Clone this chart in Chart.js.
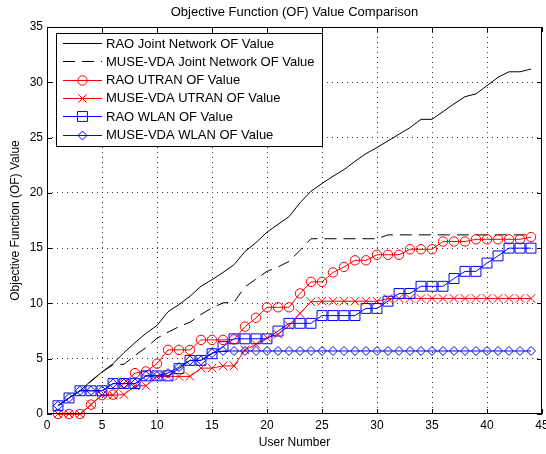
<!DOCTYPE html>
<html>
<head>
<meta charset="utf-8">
<script src="https://cdn.jsdelivr.net/npm/chart.js@4.4.1/dist/chart.umd.min.js"></script>
<style>
  html, body { margin: 0; padding: 0; background: #fff; }
  #wrap { width: 546px; height: 454px; }
</style>
</head>
<body>
<div id="wrap"><canvas id="chart" width="546" height="454"></canvas></div>
<script>
// user numbers 1..44
const users = [1,2,3,4,5,6,7,8,9,10,11,12,13,14,15,16,17,18,19,20,21,22,
  23,24,25,26,27,28,29,30,31,32,33,34,35,36,37,38,39,40,41,42,43,44];

const raoJoint = [0.75,1.45,2.1,3.0,3.8,4.55,5.55,6.45,7.3,8.0,9.25,9.9,10.65,11.55,12.15,12.8,13.5,14.7,15.5,16.45,
  17.15,17.85,19.1,20.15,20.85,21.5,22.1,22.85,23.55,24.1,24.7,25.3,25.9,26.65,26.65,27.35,28.05,28.7,28.95,29.7,
  30.45,30.95,30.95,31.2];
const museJoint = [0.75,1.45,2.1,2.95,3.8,4.45,4.5,5.3,6.0,6.85,7.4,7.9,8.3,9.0,9.6,10.05,10.1,11.5,12.2,12.9,
  13.3,13.8,14.8,15.85,15.85,15.85,15.85,15.85,15.85,15.85,16.2,16.2,16.2,16.2,16.2,16.2,16.2,16.2,16.2,16.2,
  16.2,16.2,16.2,16.2];
const raoUtran = [0,0,0,0.85,1.7,1.75,2.8,3.7,3.85,4.55,5.8,5.8,5.8,6.7,6.7,6.7,6.75,7.9,8.7,9.65,
  9.65,9.65,10.9,11.95,11.95,12.8,13.3,13.9,13.9,14.4,14.4,14.4,14.9,14.9,14.9,15.6,15.6,15.6,15.8,15.8,
  15.8,15.8,15.8,16.0];
const museUtran = [0,0,0,0.85,1.7,1.7,1.75,2.55,2.55,3.4,3.4,3.4,3.4,4.15,4.15,4.35,4.35,5.8,6.3,6.9,
  7.2,8.0,9.1,10.15,10.2,10.2,10.2,10.2,10.2,10.2,10.45,10.45,10.45,10.45,10.45,10.45,10.45,10.45,10.45,10.45,
  10.45,10.45,10.45,10.45];
const raoWlan = [0.75,1.45,2.1,2.1,2.1,2.75,2.75,2.75,3.45,3.45,3.45,4.1,4.85,4.85,5.45,6.1,6.8,6.8,6.8,6.8,
  7.5,8.2,8.2,8.2,8.9,8.9,8.9,8.9,9.55,9.55,10.2,10.9,10.9,11.55,11.55,11.55,12.25,12.9,12.9,13.65,
  14.3,15.0,15.0,15.0];
const museWlan = [0.75,1.45,2.1,2.1,2.1,2.75,2.75,2.75,3.45,3.45,3.7,4.25,4.85,4.85,5.5,5.7,5.7,5.7,5.7,5.7,
  5.7,5.7,5.7,5.7,5.7,5.7,5.7,5.7,5.7,5.7,5.7,5.7,5.7,5.7,5.7,5.7,5.7,5.7,5.7,5.7,
  5.7,5.7,5.7,5.7];

const seriesNames = [
  "RAO Joint Network OF Value",
  "MUSE-VDA Joint Network OF Value",
  "RAO UTRAN OF Value",
  "MUSE-VDA UTRAN OF Value",
  "RAO WLAN OF Value",
  "MUSE-VDA WLAN OF Value"
];

const FONT = '"Liberation Sans", Arial, Helvetica, sans-serif';

function pts(vals) {
  return vals.map((v, i) => ({ x: users[i], y: v }));
}

// matlab-ish styles, one per series
const styles = [
  { color: "#000", dash: [], marker: false, radius: 0 },
  { color: "#000", dash: [12, 7], marker: false, radius: 0 },
  { color: "#ff0000", dash: [], marker: "circle", radius: 4.7 },
  { color: "#ff0000", dash: [], marker: "crossRot", radius: 6 },
  { color: "#0000ff", dash: [], marker: "rect", radius: 7 },
  { color: "#0000ff", dash: [], marker: "rectRot", radius: 4.5 }
];
const seriesData = [raoJoint, museJoint, raoUtran, museUtran, raoWlan, museWlan];

const datasets = seriesData.map((vals, i) => ({
  label: seriesNames[i],
  data: pts(vals),
  borderColor: styles[i].color,
  borderWidth: 1,
  borderDash: styles[i].dash,
  backgroundColor: "rgba(0,0,0,0)",
  pointStyle: styles[i].marker || "circle",
  pointRadius: styles[i].radius,
  pointBorderColor: styles[i].color,
  pointBackgroundColor: "rgba(0,0,0,0)",
  pointBorderWidth: 1,
  tension: 0,
  clip: false,
  order: 6 - i
}));

// box, inward ticks, title and legend drawn on top like matlab
const matlabFrame = {
  id: "matlabFrame",
  afterDraw(chart) {
    const { ctx, chartArea: a, scales } = chart;
    ctx.save();
    ctx.strokeStyle = "#000";
    ctx.lineWidth = 1;
    ctx.setLineDash([]);
    ctx.strokeRect(Math.round(a.left) + 0.5, Math.round(a.top) + 0.5,
      Math.round(a.right - a.left) - 1, Math.round(a.bottom - a.top) - 1);

    const tl = 5;
    ctx.beginPath();
    scales.x.ticks.forEach(t => {
      const px = Math.round(scales.x.getPixelForValue(t.value)) + 0.5;
      ctx.moveTo(px, a.bottom); ctx.lineTo(px, a.bottom - tl);
      ctx.moveTo(px, a.top); ctx.lineTo(px, a.top + tl);
    });
    scales.y.ticks.forEach(t => {
      const py = Math.round(scales.y.getPixelForValue(t.value)) + 0.5;
      ctx.moveTo(a.left, py); ctx.lineTo(a.left + tl, py);
      ctx.moveTo(a.right, py); ctx.lineTo(a.right - tl, py);
    });
    ctx.stroke();

    // title
    ctx.fillStyle = "#000";
    ctx.font = "13px " + FONT;
    ctx.textAlign = "center";
    ctx.textBaseline = "middle";
    ctx.fillText("Objective Function (OF) Value Comparison", (a.left + a.right) / 2, 12);

    // legend
    const lx = a.left + 9, ly = a.top + 6, lw = 266, lh = 113;
    ctx.fillStyle = "#fff";
    ctx.fillRect(lx, ly, lw, lh);
    ctx.strokeRect(lx + 0.5, ly + 0.5, lw, lh);
    seriesNames.forEach((name, i) => {
      const y = ly + 10 + i * 18.3;
      const s = styles[i];
      ctx.strokeStyle = s.color;
      ctx.setLineDash(s.dash);
      ctx.beginPath();
      ctx.moveTo(lx + 7, Math.round(y) + 0.5);
      ctx.lineTo(lx + 46, Math.round(y) + 0.5);
      ctx.stroke();
      ctx.setLineDash([]);
      if (s.marker) {
        ctx.fillStyle = "rgba(0,0,0,0)";
        Chart.helpers.drawPoint(ctx, { pointStyle: s.marker, radius: s.radius, rotation: 0, borderWidth: 1 },
          lx + 26.5, Math.round(y) + 0.5);
      }
      ctx.fillStyle = "#000";
      ctx.textAlign = "left";
      ctx.fillText(name, lx + 50, y + 1);
    });
    ctx.restore();
  }
};

const gridColor = (lo, hi) => c => (c.tick && c.tick.value > lo && c.tick.value < hi) ? "#333" : "rgba(0,0,0,0)";

new Chart(document.getElementById("chart").getContext("2d"), {
  type: "line",
  data: { datasets },
  options: {
    responsive: false,
    animation: false,
    events: [],
    layout: { autoPadding: false, padding: { top: 27, right: 4, left: 0, bottom: 0 } },
    plugins: {
      legend: { display: false },
      title: { display: false },
      tooltip: { enabled: false }
    },
    scales: {
      x: {
        type: "linear",
        min: 0,
        max: 45,
        ticks: { stepSize: 5, autoSkip: false, maxRotation: 0, color: "#000", padding: 4, font: { family: FONT, size: 12 } },
        grid: { color: gridColor(0, 45), drawTicks: false, lineWidth: 1 },
        border: { display: false, dash: [1, 4] },
        title: { display: true, text: "User Number", color: "#000", font: { family: FONT, size: 12 }, padding: { top: 0, bottom: 4 } },
        afterFit(scale) { scale.height = 40; scale.paddingLeft = 0; scale.paddingRight = 0; }
      },
      y: {
        type: "linear",
        min: 0,
        max: 35,
        ticks: { stepSize: 5, color: "#000", padding: 4, font: { family: FONT, size: 12 } },
        grid: { color: gridColor(0, 35), drawTicks: false, lineWidth: 1 },
        border: { display: false, dash: [1, 4] },
        title: { display: true, text: "Objective Function (OF) Value", color: "#000", font: { family: FONT, size: 12 }, padding: { top: 8, bottom: 0 } },
        afterFit(scale) { scale.width = 47; scale.paddingTop = 0; scale.paddingBottom = 0; }
      }
    }
  },
  plugins: [matlabFrame]
});
</script>
</body>
</html>
